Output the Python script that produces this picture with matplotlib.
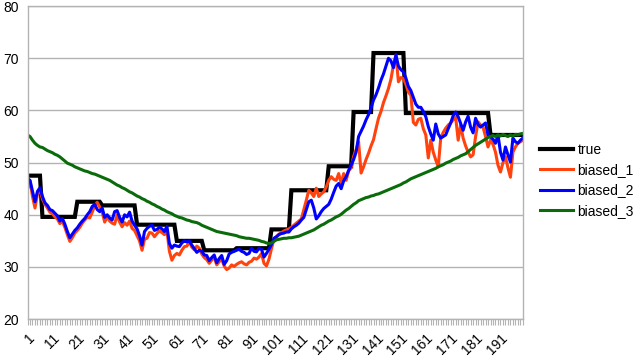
import matplotlib
matplotlib.use("Agg")
import matplotlib.pyplot as plt
import numpy as np

plt.rcParams['font.family'] = ['Liberation Sans', 'DejaVu Sans']

# ---- data ----
index = list(range(1, 201))

true_vals = ([47.5] * 6 + [39.6] * 14 + [42.5] * 10 + [41.8] * 14 + [38.1] * 16 +
             [35.0] * 11 + [33.2] * 13 + [33.6] * 14 + [37.2] * 8 + [44.7] * 15 +
             [49.3] * 10 + [59.7] * 8 + [71.0] * 13 + [59.5] * 34 + [55.3] * 14)

biased_1 = [
    45.0, 46.5, 43.5, 41.3, 44.0, 44.8, 43.0, 42.0, 41.3, 40.5,
    40.2, 39.6, 39.2, 38.3, 38.8, 37.6, 36.2, 34.9, 35.6, 36.5,
    37.0, 37.6, 38.4, 39.0, 39.5, 39.4, 40.5, 41.8, 42.4, 41.5,
    40.5, 38.6, 39.6, 38.8, 38.4, 38.2, 40.0, 38.6, 37.7, 38.5,
    38.0, 38.8, 37.4, 37.0, 36.0, 35.0, 33.2, 35.3, 35.5, 36.6,
    36.5, 35.8, 36.4, 36.9, 36.6, 36.2, 37.0, 33.0, 31.3, 32.2,
    32.6, 32.3, 33.2, 33.9, 34.0, 34.8, 33.8, 33.3, 34.0, 33.6,
    32.5, 31.8, 31.4, 30.7, 31.3, 31.9, 30.4, 31.0, 31.5, 30.2,
    29.5, 29.8, 30.4, 30.1, 30.5, 30.8, 31.0, 30.6, 30.4, 30.9,
    31.1, 31.7, 31.5, 31.9, 32.6, 30.7, 30.2, 31.5, 33.5, 35.3,
    35.8, 36.3, 36.6, 36.9, 37.1, 37.3, 37.6, 38.0, 38.4, 38.8,
    39.2, 41.0, 42.8, 44.7, 44.2, 43.5, 45.1, 43.5, 44.0, 44.4,
    45.3, 46.6, 47.3, 46.8, 46.6, 47.9, 46.0, 47.9, 46.6, 48.4,
    49.0, 51.2, 52.5, 54.0, 48.0, 49.2, 50.6, 51.8, 53.2, 54.4,
    56.5, 58.5, 59.8, 61.5, 62.8, 64.2, 66.0, 68.7, 70.6, 65.5,
    66.3, 66.1, 65.0, 63.5, 62.9, 57.7, 57.2, 58.3, 58.5, 56.5,
    55.3, 50.9, 54.3, 52.0, 50.5, 49.2, 54.7, 55.8, 56.6, 57.2,
    57.6, 58.2, 58.7, 54.3, 57.2, 54.7, 53.2, 52.0, 51.1, 51.5,
    55.0, 57.8, 57.2, 56.8, 55.0, 53.0, 54.3, 53.5, 52.0, 49.5,
    48.2, 50.0, 51.1, 49.0, 47.2, 52.0, 53.0, 53.7, 54.0, 54.3,
]

biased_2 = [
    47.0, 46.6, 44.5, 42.5, 44.5, 45.2, 43.5, 42.3, 41.8, 41.0,
    40.8, 40.3, 39.8, 38.8, 39.3, 38.2, 36.8, 35.6, 36.3, 37.0,
    37.5, 38.2, 38.8, 39.3, 40.0, 40.6, 41.6, 42.0, 41.0, 40.6,
    41.3, 39.5, 40.0, 39.4, 39.0, 40.6, 40.8, 39.5, 38.6, 40.0,
    39.6, 40.5, 38.8, 38.0, 37.3, 36.0, 34.2, 36.8, 37.4, 37.8,
    38.0, 37.0, 37.2, 37.6, 37.3, 36.8, 37.8, 34.5, 33.6, 34.2,
    34.0, 33.9, 34.6, 35.0, 34.8, 35.0, 34.2, 33.5, 32.8, 33.2,
    33.0, 32.3, 32.2, 31.2, 31.8, 32.3, 30.8, 31.6, 32.2, 30.5,
    31.2, 32.5, 32.8, 33.0, 33.2, 33.4, 33.0, 32.8, 32.4, 32.6,
    33.6, 33.0, 32.9, 33.6, 33.4, 31.9, 32.6, 33.4, 34.3, 35.5,
    35.8, 36.2, 36.4, 36.5, 36.7, 36.7, 37.3, 37.7, 38.0, 38.4,
    39.0, 39.5, 41.0, 42.5, 42.8, 41.3, 39.2, 39.8, 40.6, 41.2,
    41.6, 42.0, 43.0, 44.3, 45.5, 46.0, 45.0, 46.5, 47.3, 48.5,
    49.5, 50.6, 52.0, 55.0, 56.0, 57.0, 58.2, 59.2, 60.5, 62.0,
    63.0, 64.3, 65.8, 67.0, 68.5, 70.0, 69.5, 68.2, 70.6, 68.5,
    67.8, 67.4, 66.2, 64.6, 63.8, 62.5, 61.2, 60.6, 60.6, 59.8,
    58.8, 56.9, 55.5, 54.3, 57.4, 55.5, 54.7, 55.0, 55.3, 56.5,
    57.6, 59.0, 59.7, 58.8, 57.5, 56.2, 57.8, 58.9, 56.8, 55.7,
    58.5, 57.3, 56.8, 57.2, 57.6, 55.3, 54.9, 54.5, 53.7, 55.3,
    52.0, 50.5, 53.0, 51.5, 50.1, 54.7, 54.0, 53.7, 54.3, 54.7,
]

biased_3 = [
    55.3, 55.0, 54.3, 53.7, 53.3, 53.0, 52.9, 52.6, 52.3, 52.1,
    51.9, 51.6, 51.4, 51.1, 50.7, 50.3, 49.9, 49.7, 49.5, 49.2,
    49.0, 48.8, 48.6, 48.4, 48.3, 48.1, 47.9, 47.8, 47.6, 47.4,
    47.2, 47.0, 46.8, 46.6, 46.3, 46.0, 45.7, 45.5, 45.2, 45.0,
    44.7, 44.4, 44.2, 43.9, 43.6, 43.4, 43.1, 42.9, 42.6, 42.4,
    42.1, 41.9, 41.6, 41.4, 41.1, 40.9, 40.6, 40.4, 40.2, 39.9,
    39.7, 39.5, 39.4, 39.2, 39.0, 38.9, 38.7, 38.6, 38.5, 38.3,
    38.0, 37.8, 37.6, 37.4, 37.2, 37.0, 36.8, 36.7, 36.6, 36.5,
    36.4, 36.3, 36.2, 36.1, 36.0, 35.8, 35.7, 35.6, 35.5, 35.5,
    35.4, 35.3, 35.2, 35.1, 34.9, 34.8, 34.6, 34.5, 34.6, 34.9,
    35.2, 35.3, 35.4, 35.5, 35.5, 35.6, 35.6, 35.7, 35.8, 35.9,
    36.1, 36.3, 36.5, 36.7, 36.9, 37.1, 37.4, 37.7, 38.0, 38.2,
    38.5, 38.8, 39.0, 39.3, 39.6, 39.8, 40.1, 40.5, 40.9, 41.2,
    41.6, 42.0, 42.3, 42.7, 42.9, 43.1, 43.3, 43.4, 43.6, 43.7,
    43.9, 44.0, 44.2, 44.4, 44.6, 44.8, 45.0, 45.2, 45.4, 45.6,
    45.8, 46.1, 46.3, 46.6, 46.9, 47.1, 47.3, 47.5, 47.7, 47.9,
    48.1, 48.3, 48.5, 48.7, 48.9, 49.2, 49.4, 49.6, 49.9, 50.1,
    50.3, 50.6, 50.8, 51.0, 51.3, 51.5, 51.7, 52.1, 52.5, 52.9,
    53.3, 53.6, 53.9, 54.2, 54.5, 54.8, 55.0, 55.2, 55.0, 55.3,
    55.1, 55.4, 55.2, 55.0, 55.3, 55.1, 55.4, 55.3, 55.5, 55.6,
]

series_names = ["true", "biased_1", "biased_2", "biased_3"]
y_ticks = [20, 30, 40, 50, 60, 70, 80]
x_label_every = 10

# ---- plot ----
fig = plt.figure(figsize=(6.4, 3.57), dpi=100)
ax = fig.add_axes([0.043, 0.106, 0.774, 0.877])

grid_c = "#b3b3b3"
ax.plot(index, true_vals, color="black", lw=3.0, label=series_names[0],
        solid_joinstyle="miter")
ax.plot(index, biased_1, color="#ff420e", lw=2.2, label=series_names[1])
ax.plot(index, biased_2, color="#0000ff", lw=2.2, label=series_names[2])
ax.plot(index, biased_3, color="#0a6b0a", lw=2.2, label=series_names[3])

ax.set_xlim(1, 200)
ax.set_ylim(20, 80)
ax.set_yticks(y_ticks)
ax.yaxis.grid(True, color=grid_c, lw=1.0)
ax.set_axisbelow(True)
ax.tick_params(axis="y", length=0, pad=6, labelsize=10, colors="black")

ax.set_xticks(index)
ax.set_xticklabels([str(i) if (i - 1) % x_label_every == 0 else "" for i in index],
                   rotation=45, ha="right", rotation_mode="anchor")
ax.tick_params(axis="x", length=4.5, width=0.8, color=grid_c, pad=4,
               labelsize=10, labelcolor="black", direction="out")

for s in ax.spines.values():
    s.set_color(grid_c)
    s.set_linewidth(1.0)

leg = fig.legend(loc="upper left", bbox_to_anchor=(0.835, 0.615),
                 frameon=False, fontsize=10, handlelength=2.4,
                 handletextpad=0.3, labelspacing=0.45, borderaxespad=0)

fig.savefig("out.png", dpi=100)
